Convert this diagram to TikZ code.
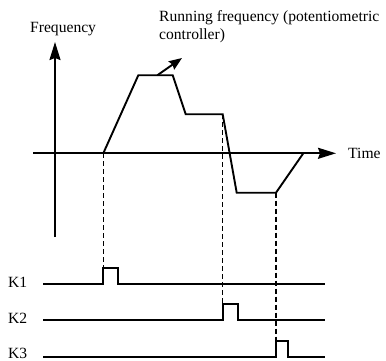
\documentclass[tikz,border=0pt]{standalone}
\usepackage{fontspec}
\setmainfont{Liberation Serif}
\usetikzlibrary{arrows.meta}
\begin{document}
\begin{tikzpicture}[x=1pt,y=-1pt,
  lbl/.style={inner sep=0pt, font=\fontsize{15.6}{18}\selectfont, anchor=base west},
  wave/.style={line width=1.9pt},
  axis/.style={line width=1.9pt, -{Stealth[length=18pt,width=11pt,inset=2pt]}},
  pointer/.style={line width=1.9pt, -{Stealth[length=13pt,width=10pt,inset=1.5pt]}},
  guide/.style={line width=1.5pt, dash pattern=on 5pt off 3pt},
  ]
\useasboundingbox (0,0) rectangle (386,361);
% axes
\coordinate (vb) at (55,237);
\coordinate (vt) at (55,42);
\coordinate (hl) at (33,153.3);
\coordinate (hr) at (336,153.3);
\draw[axis] (vb) -- (vt);
\draw[axis] (hl) -- (hr);
% labels
\node[lbl] (freq) at (30,33) {Frequency};
\node[lbl] (time) at (348,158) {Time};
\node[lbl] (run1) at (159,22) {Running frequency (potentiometric};
\node[lbl] (run2) at (159,39.5) {controller)};
% frequency curve
\coordinate (p0) at (103.3,153.3);
\coordinate (p1) at (138.3,75.3);
\coordinate (p2) at (172.7,75.3);
\coordinate (p3) at (185.7,114.3);
\coordinate (p4) at (222.7,114.3);
\coordinate (p5) at (236.7,192.7);
\coordinate (p6) at (276,192.7);
\coordinate (p7) at (303.3,153.3);
\draw[wave] (p0) -- (p1) -- (p2) -- (p3) -- (p4) -- (p5) -- (p6) -- (p7);
% pointer arrow
\coordinate (ps) at (157.3,75.3);
\coordinate (pe) at (182,58);
\draw[pointer] (ps) -- (pe);
% pulse trains
\coordinate (k1s) at (43.3,284.3);
\coordinate (k1a) at (103.3,284.3);
\coordinate (k1t) at (103.3,267.7);
\coordinate (k1u) at (118.3,267.7);
\coordinate (k1b) at (118.3,284.3);
\coordinate (k1e) at (325,284.3);
\draw[wave] (k1s) -- (k1a) -- (k1t) -- (k1u) -- (k1b) -- (k1e);
\coordinate (k2s) at (43.3,320.3);
\coordinate (k2a) at (222.7,320.3);
\coordinate (k2t) at (222.7,304);
\coordinate (k2u) at (238.3,304);
\coordinate (k2b) at (238.3,320.3);
\coordinate (k2e) at (325,320.3);
\draw[wave] (k2s) -- (k2a) -- (k2t) -- (k2u) -- (k2b) -- (k2e);
\coordinate (k3s) at (43.3,357);
\coordinate (k3a) at (276,357);
\coordinate (k3t) at (276,340.7);
\coordinate (k3u) at (288.3,340.7);
\coordinate (k3b) at (288.3,357);
\coordinate (k3e) at (325,357);
\draw[wave] (k3s) -- (k3a) -- (k3t) -- (k3u) -- (k3b) -- (k3e);
\node[lbl] (K1) at (8,287) {K1};
\node[lbl] (K2) at (8,323) {K2};
\node[lbl] (K3) at (8,358) {K3};
% dashed guides
\draw[guide] (p0) -- (k1t);
\draw[guide] (p4) -- (k2t);
\draw[guide] (p6) -- (k3t);
\end{tikzpicture}
\end{document}
